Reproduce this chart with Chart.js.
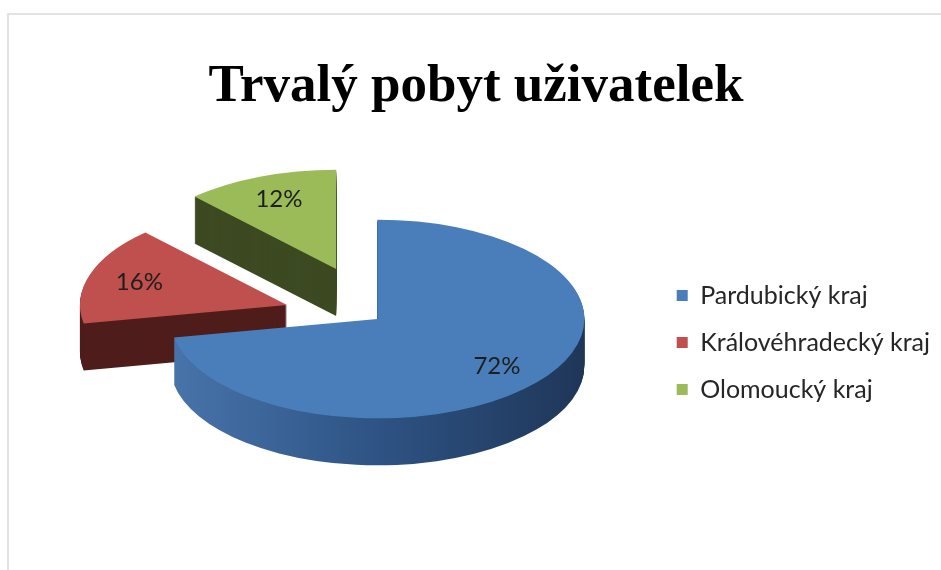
<!DOCTYPE html>
<html>
<head>
<meta charset="utf-8">
<script src="https://cdn.jsdelivr.net/npm/chart.js@4.4.1/dist/chart.umd.min.js"></script>
<style>
  html, body { margin: 0; padding: 0; background: #fff; }
  #wrap { position: relative; width: 941px; height: 570px; overflow: hidden; }
  #frame { position: absolute; left: 7px; top: 13px; right: -10px; bottom: -10px;
           border-left: 2px solid #e3e3e3; border-top: 2px solid #e3e3e3; }
  canvas { position: absolute; left: 0; top: 0; }
</style>
</head>
<body>
<div id="wrap">
  <div id="frame"></div>
  <canvas id="pieChart" width="941" height="570"></canvas>
</div>
<script>
'use strict';

// Data
var chartTitle = 'Trvalý pobyt uživatelek';
var regions = ['Pardubický kraj', 'Královéhradecký kraj', 'Olomoucký kraj'];
var shares = [72, 16, 12];

// Colours (top face / side wall)
var topColors = ['#4a7ebb', '#c0504d', '#9bbb59'];
var sideColors = [['#4874ab', '#2e5384', '#1f3658'], ['#4f1d1b'], ['#3d4a22']];

// Fake 3D: squash the pie vertically and extrude it downwards
var pie3d = {
  id: 'pie3d',
  beforeDatasetsDraw: function(chart, args, opts) {
    var ctx = chart.ctx;
    var meta = chart.getDatasetMeta(0);
    var arcs = meta.data;
    if (!arcs.length) return;
    var cy = arcs[0].y;
    var topY = cy - opts.depth / 2;

    function sideFill(arc, i) {
      var stops = sideColors[i];
      if (stops.length === 1) return stops[0];
      var g = ctx.createLinearGradient(arc.x - arc.outerRadius, 0, arc.x + arc.outerRadius, 0);
      stops.forEach(function(c, k) { g.addColorStop(k / (stops.length - 1), c); });
      return g;
    }

    function drawSlice(arc, fill, drop) {
      var saved = arc.options;
      var off = saved.offset || 0;
      var mid = (arc.startAngle + arc.endAngle) / 2;
      arc.options = Object.assign({}, saved, { offset: 0, borderWidth: 0, backgroundColor: fill });
      ctx.save();
      ctx.translate(0, topY + drop);
      ctx.scale(1, opts.tilt);
      ctx.translate(0, -cy);
      ctx.translate(Math.cos(mid) * off, Math.sin(mid) * off);
      arc.draw(ctx);
      ctx.restore();
      arc.options = saved;
    }

    // side walls, back slices first
    for (var i = arcs.length - 1; i >= 0; i--) {
      var fill = sideFill(arcs[i], i);
      for (var d = opts.depth; d >= 1; d--) {
        drawSlice(arcs[i], fill, d);
      }
    }
    // top faces
    arcs.forEach(function(arc) { drawSlice(arc, arc.options.backgroundColor, 0); });

    // percentage labels
    var total = shares.reduce(function(a, b) { return a + b; }, 0);
    ctx.save();
    ctx.font = opts.labelFont;
    ctx.fillStyle = opts.labelColor;
    ctx.textAlign = 'center';
    ctx.textBaseline = 'middle';
    arcs.forEach(function(arc, i) {
      var mid = (arc.startAngle + arc.endAngle) / 2;
      var r = (arc.options.offset || 0) + arc.outerRadius * opts.labelRadius;
      var x = arc.x + Math.cos(mid) * r;
      var y = topY + Math.sin(mid) * r * opts.tilt;
      ctx.fillText(Math.round(shares[i] / total * 100) + '%', x, y);
    });
    ctx.restore();
    return false;
  }
};

var bigTitle = {
  id: 'bigTitle',
  afterDraw: function(chart, args, opts) {
    var ctx = chart.ctx;
    ctx.save();
    ctx.font = opts.font;
    ctx.fillStyle = opts.color;
    ctx.textAlign = 'center';
    ctx.textBaseline = 'alphabetic';
    ctx.fillText(opts.text, opts.x, opts.y);
    ctx.restore();
  }
};

var pieChart = new Chart(document.getElementById('pieChart'), {
  type: 'pie',
  data: {
    labels: regions,
    datasets: [{
      data: shares,
      backgroundColor: topColors,
      borderWidth: 0,
      offset: [0, 95, 112]
    }]
  },
  options: {
    responsive: false,
    animation: false,
    radius: 207,
    layout: { padding: { left: 100, right: 1, top: 156, bottom: 41 } },
    plugins: {
      title: { display: false },
      tooltip: { enabled: false },
      legend: {
        position: 'right',
        labels: {
          boxWidth: 11,
          boxHeight: 11,
          padding: 22,
          color: '#262626',
          font: { family: 'Lato', size: 25 }
        }
      },
      pie3d: {
        tilt: 0.48,
        depth: 47,
        labelRadius: 0.75,
        labelFont: '24px Lato',
        labelColor: '#1e1e1e'
      },
      bigTitle: {
        text: chartTitle,
        font: 'bold 53px "Liberation Serif"',
        color: '#000',
        x: 476,
        y: 101
      }
    }
  },
  plugins: [pie3d, bigTitle]
});
</script>
</body>
</html>
